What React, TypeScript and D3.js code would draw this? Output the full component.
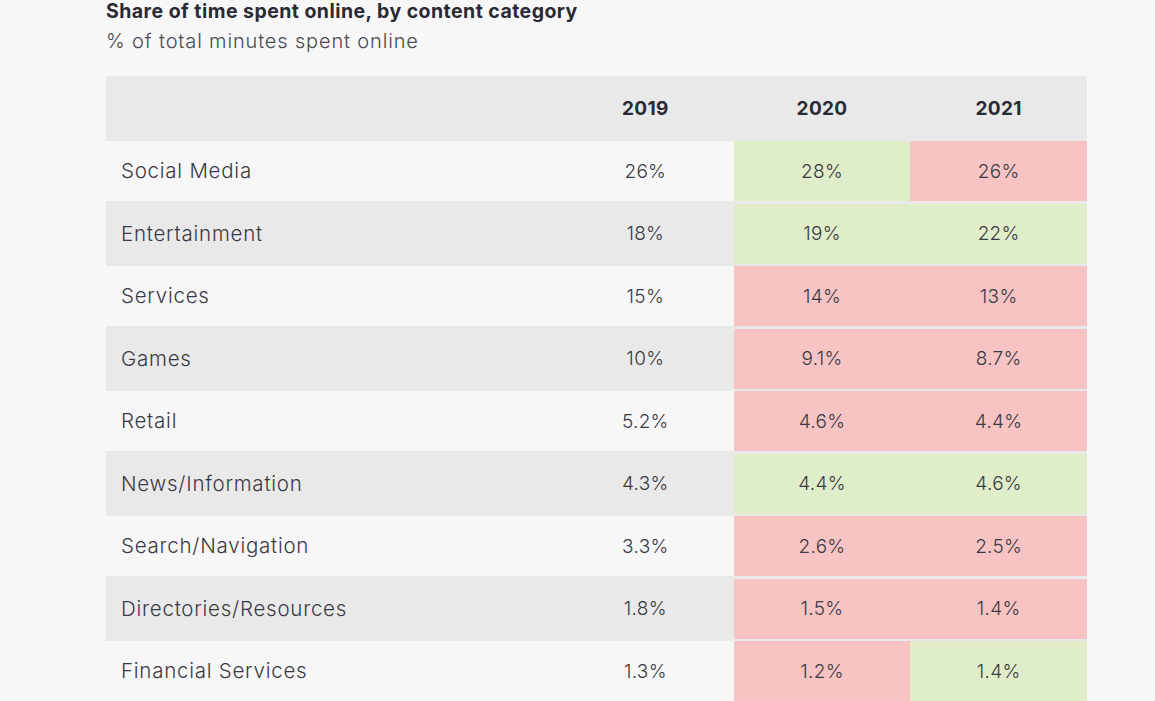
import React from "react";
import * as d3 from "d3";

const title = "Share of time spent online, by content category";
const subtitle = "% of total minutes spent online";
const years = ["2019", "2020", "2021"];
const categories = [
  "Social Media",
  "Entertainment",
  "Services",
  "Games",
  "Retail",
  "News/Information",
  "Search/Navigation",
  "Directories/Resources",
  "Financial Services",
];
const values2019 = [26, 18, 15, 10, 5.2, 4.3, 3.3, 1.8, 1.3];
const values2020 = [28, 19, 14, 9.1, 4.6, 4.4, 2.6, 1.5, 1.2];
const values2021 = [26, 22, 13, 8.7, 4.4, 4.6, 2.5, 1.4, 1.4];

const W = 1155;
const H = 701;
const FONT = "Inter, 'Open Sans', sans-serif";
const BG = "#f7f7f7";
const GRAY = "#e9e9e9";
const GREEN = "#dfeec9";
const RED = "#f7c3c3";
const TEXT = "#3a3a44";

export default function App() {
  const series = [values2019, values2020, values2021];
  const tableLeft = 106;
  const tableRight = 1087;
  const firstColRight = 557;
  const headerTop = 76;
  const headerBottom = 141;
  const rowPitch = 62.5;
  const gap = 2.5;

  const y = d3
    .scaleBand<string>()
    .domain(categories)
    .range([headerBottom, headerBottom + rowPitch * categories.length])
    .padding(0);
  const x = d3
    .scaleBand<string>()
    .domain(years)
    .range([firstColRight, tableRight])
    .padding(0);
  const fmt = d3.format(".2r");

  return (
    <svg
      width={W}
      height={H}
      style={{ position: "absolute", left: 0, top: 0, display: "block" }}
      fontFamily={FONT}
    >
      <rect x={0} y={0} width={W} height={H} fill={BG} />
      <text x={106} y={18} fontSize={19.5} fontWeight={700} fill="#2a2a35" letterSpacing={0.45}>
        {title}
      </text>
      <text x={106} y={48} fontSize={20} fontWeight={300} fill="#4a4a52" letterSpacing={0.85}>
        {subtitle}
      </text>

      {/* header */}
      <rect
        x={tableLeft}
        y={headerTop}
        width={tableRight - tableLeft}
        height={headerBottom - headerTop}
        fill={GRAY}
        shapeRendering="crispEdges"
      />
      {years.map((yr) => (
        <text
          key={yr}
          x={(x(yr) as number) + x.bandwidth() / 2}
          y={(headerTop + headerBottom) / 2}
          dy="0.35em"
          textAnchor="middle"
          fontSize={19}
          fontWeight={700}
          fill="#2a2a35"
          letterSpacing={0.3}
        >
          {yr}
        </text>
      ))}

      {/* rows */}
      {categories.map((cat, i) => {
        const top = y(cat) as number;
        const cellH = y.bandwidth() - gap;
        const cy = top + cellH / 2;
        return (
          <g key={cat} shapeRendering="crispEdges">
            <rect
              x={tableLeft}
              y={top}
              width={tableRight - tableLeft}
              height={y.bandwidth()}
              fill={GRAY}
            />
            {i % 2 === 0 && (
              <rect
                x={tableLeft}
                y={top}
                width={tableRight - tableLeft}
                height={cellH}
                fill={BG}
              />
            )}
            {years.map((yr, j) => {
              if (j === 0) return null;
              const cur = series[j][i];
              const prev = series[j - 1][i];
              const x0 = x(yr) as number;
              const x1 = Math.min(x0 + x.bandwidth() + 0.5, tableRight);
              return (
                <rect
                  key={yr}
                  x={x0}
                  y={top}
                  width={x1 - x0}
                  height={cellH}
                  fill={cur >= prev ? GREEN : RED}
                />
              );
            })}
            <text
              x={121}
              y={cy}
              dy="0.35em"
              fontSize={20.5}
              fontWeight={300}
              fill={TEXT}
              letterSpacing={0.75}
            >
              {cat}
            </text>
            {years.map((yr, j) => (
              <text
                key={yr}
                x={(x(yr) as number) + x.bandwidth() / 2}
                y={cy}
                dy="0.35em"
                textAnchor="middle"
                fontSize={19}
                fontWeight={300}
                fill={TEXT}
                letterSpacing={0.3}
              >
                {fmt(series[j][i]) + "%"}
              </text>
            ))}
          </g>
        );
      })}
    </svg>
  );
}
